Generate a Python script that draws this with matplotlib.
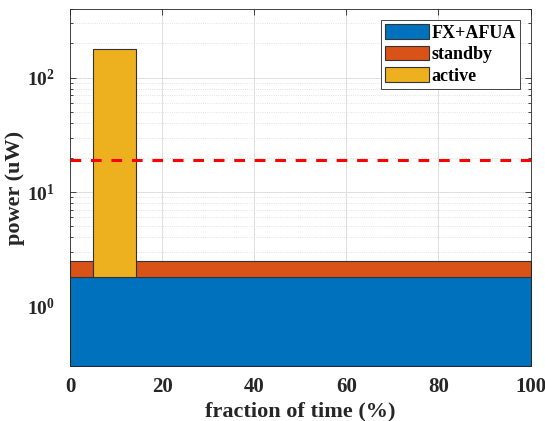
import matplotlib
matplotlib.use("Agg")
import matplotlib.pyplot as plt
from matplotlib.patches import Patch

# data
names = ['FX+AFUA', 'standby', 'active']
colors = ['#0072BD', '#D95319', '#EDB120']
base_power = 1.8        # uW, FX+AFUA floor
standby_power = 2.5     # uW, top of standby band
active_power = 180.0    # uW, top of active burst
active_span = [5.0, 14.3]   # % of time
avg_power = 19.0        # uW, dashed line
xlim = [0, 100]
ylim = [0.3, 400]

plt.rcParams['font.family'] = ['Liberation Serif', 'DejaVu Serif']
plt.rcParams['font.weight'] = 'bold'

fig = plt.figure(figsize=(5.45, 4.21), dpi=100)
ax = fig.add_axes([70/545, 55/421, 460.5/545, 357/421])
ax.set_yscale('log')

edge = '#333333'
bottom = ylim[0]
# FX+AFUA across the whole time
ax.fill_between(xlim, [bottom, bottom], [base_power, base_power],
                facecolor=colors[0], edgecolor=edge, linewidth=0.8, zorder=2)
# standby outside the active burst
ax.fill_between([xlim[0], active_span[0]], base_power, standby_power,
                facecolor=colors[1], edgecolor=edge, linewidth=0.8, zorder=2)
ax.fill_between([active_span[1], xlim[1]], base_power, standby_power,
                facecolor=colors[1], edgecolor=edge, linewidth=0.8, zorder=2)
# active burst
ax.fill_between(active_span, base_power, active_power,
                facecolor=colors[2], edgecolor=edge, linewidth=0.8, zorder=2)

ax.plot(xlim, [avg_power, avg_power], color='red', linestyle=(0, (3.5, 3.2)),
        linewidth=2.2, zorder=3)

ax.set_xlim(xlim)
ax.set_ylim(ylim)
ax.set_xticks([0, 20, 40, 60, 80, 100])
ax.set_yticks([1, 10, 100])

ax.grid(True, which='major', color='#d9d9d9', linewidth=0.6, zorder=0)
ax.grid(True, which='minor', axis='y', color='#d9d9d9', linestyle=':', linewidth=0.6, zorder=0)
ax.set_axisbelow(True)

ax.tick_params(which='both', direction='in', top=True, right=True,
               labelsize=15, colors='#262626', width=0.6)
ax.tick_params(which='major', length=4)
ax.tick_params(which='minor', length=2)
ax.tick_params(axis='x', pad=8)
ax.tick_params(axis='y', pad=11, labelsize=14)
for lab in ax.get_xticklabels() + ax.get_yticklabels():
    lab.set_fontweight('bold')
for s in ax.spines.values():
    s.set_color('#262626')
    s.set_linewidth(0.6)

ax.set_xlabel('fraction of time (%)', fontsize=16, fontweight='bold', color='#262626', labelpad=3)
ax.set_ylabel('power (uW)', fontsize=16, fontweight='bold', color='#262626')
ax.yaxis.set_label_coords(-0.097, 0.5)

handles = [Patch(facecolor=c, edgecolor=edge, linewidth=0.8) for c in colors]
leg = ax.legend(handles, names, loc='upper right', fontsize=13, frameon=True,
                fancybox=False, edgecolor='#262626', framealpha=1,
                handlelength=2.4, handleheight=0.9, handletextpad=0.15,
                borderpad=0.22, labelspacing=0.22, borderaxespad=0.6)
leg.get_frame().set_linewidth(0.6)
for t in leg.get_texts():
    t.set_fontweight('bold')

fig.savefig('out.png', dpi=100)
